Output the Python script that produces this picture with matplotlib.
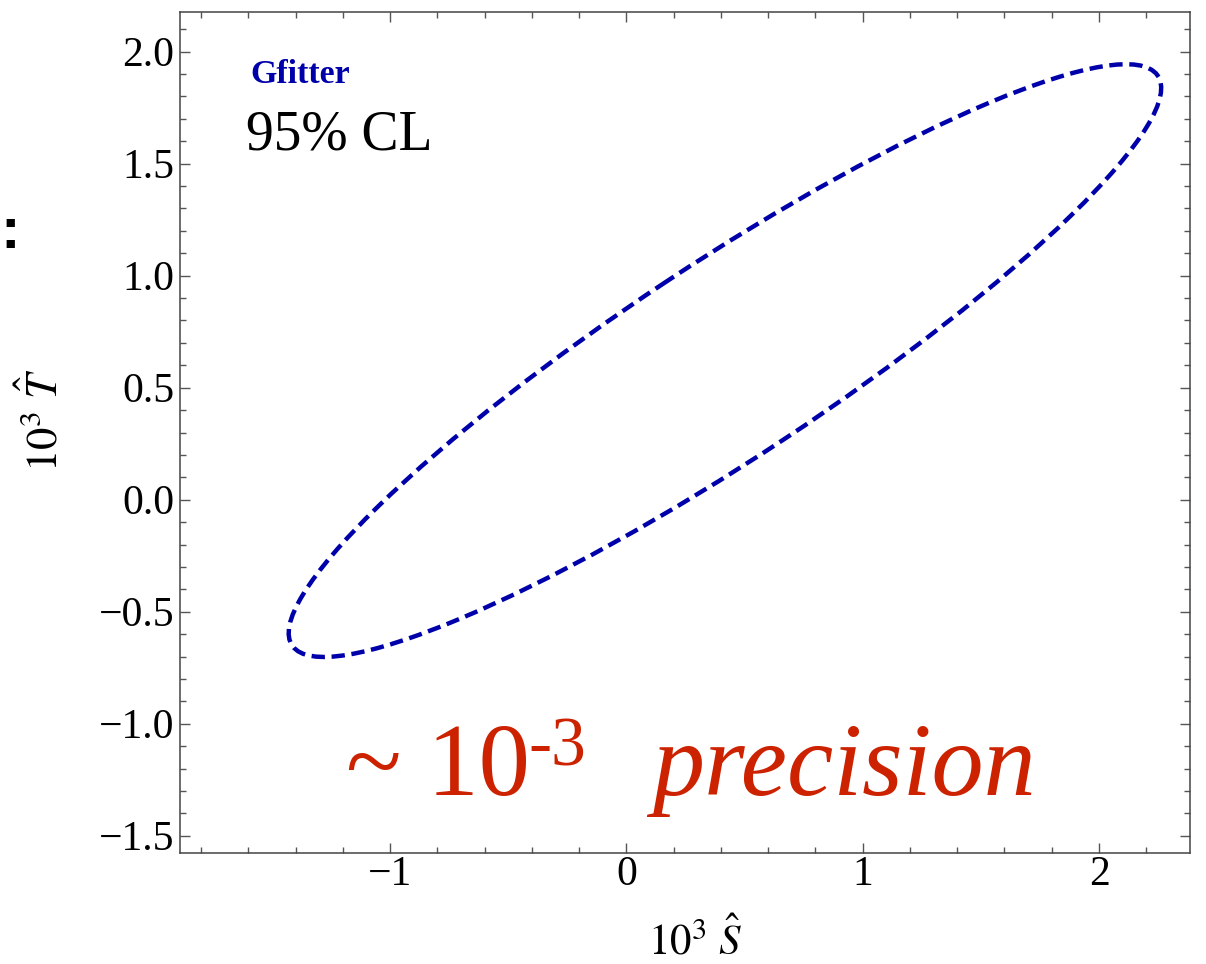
import numpy as np
import matplotlib
matplotlib.use('Agg')
import matplotlib.pyplot as plt
from matplotlib.patches import Ellipse
from matplotlib.ticker import MultipleLocator, FuncFormatter

# 95% CL contour in (10^3 S, 10^3 T)
ell_center = [0.417, 0.621]
ell_matrix = [[3.408, 2.245],
              [2.245, 1.750]]

x_ticks = [-1, 0, 1, 2]
y_ticks = [-1.5, -1.0, -0.5, 0.0, 0.5, 1.0, 1.5, 2.0]

plt.rcParams['font.family'] = ['Liberation Serif', 'DejaVu Serif']
plt.rcParams['mathtext.fontset'] = 'stix'

W, H = 1206, 964
fig = plt.figure(figsize=(W / 100, H / 100), dpi=100)
ax = fig.add_axes([180 / W, (H - 853) / H, 1010 / W, 841 / H])

vals, vecs = np.linalg.eigh(np.array(ell_matrix))
width, height = 2 * np.sqrt(vals[::-1])
angle = np.degrees(np.arctan2(vecs[1, -1], vecs[0, -1]))
ax.add_patch(Ellipse(ell_center, width, height, angle=angle, fill=False,
                     ec='#0000AA', lw=3.2, ls=(0, (3.0, 1.5))))

ax.set_xlim(-1.889, 2.385)
ax.set_ylim(-1.577, 2.177)
ax.set_xticks(x_ticks)
ax.set_yticks(y_ticks)
ax.xaxis.set_minor_locator(MultipleLocator(0.2))
ax.yaxis.set_minor_locator(MultipleLocator(0.1))
ax.yaxis.set_major_formatter(FuncFormatter(lambda v, p: ('%.1f' % v).replace('-', '\u2212')))
ax.tick_params(which='both', direction='in', top=True, right=True,
               color='#555555', width=1.0, labelsize=30)
ax.tick_params(which='major', length=7.2)
ax.tick_params(which='minor', length=4.3)
ax.tick_params(axis='y', pad=4)
ax.tick_params(axis='x', pad=2)
for sp in ax.spines.values():
    sp.set_color('#444444')
    sp.set_linewidth(1.1)

ax.set_ylabel(r'$10^3\ \hat{T}$', fontsize=32)
ax.yaxis.set_label_coords(-0.112, 0.515)
ax.set_xlabel(r'$10^3\ \hat{S}$', fontsize=31)
ax.xaxis.set_label_coords(0.51, -0.077)

def px(x, y):
    return x / W, 1 - y / H

fig.text(*px(250, 83), 'Gfitter', fontsize=24.5, fontweight='bold',
         color='#0000AA', va='baseline')
fig.text(*px(246, 150), '95% CL', fontsize=40, va='baseline')

red = '#CC2200'
fig.text(*px(346, 795), '~ 10', fontsize=74, color=red, va='baseline')
fig.text(*px(528, 765), '-3', fontsize=50, color=red, va='baseline')
fig.text(*px(652, 795), 'precision', fontsize=75, style='italic',
         color=red, va='baseline')

fig.text(*px(0, 248), ':', fontsize=42, fontweight='bold',
         family='Liberation Sans', va='baseline')

fig.savefig('out.png', dpi=100)
